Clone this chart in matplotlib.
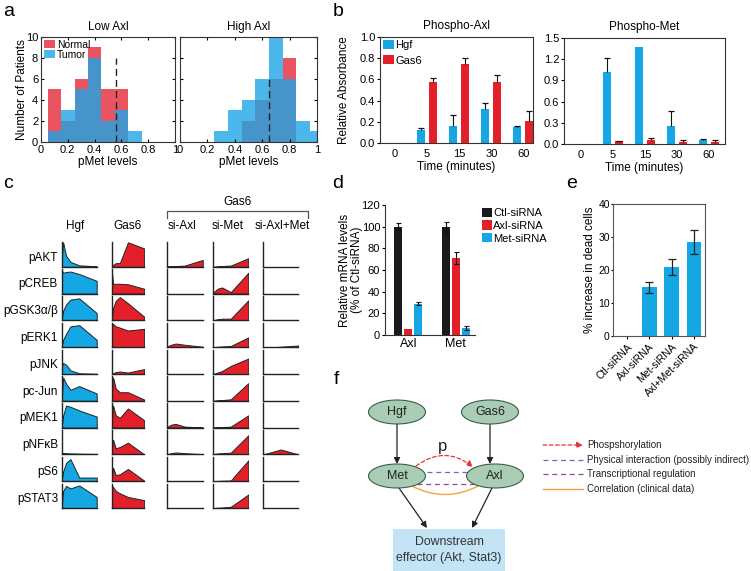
import numpy as np
import matplotlib
matplotlib.use('Agg')
import matplotlib.pyplot as plt
from matplotlib.patches import Ellipse, Rectangle, FancyArrowPatch

plt.rcParams['font.family'] = ['Liberation Sans', 'DejaVu Sans']
plt.rcParams['font.size'] = 8
plt.rcParams['axes.linewidth'] = 0.8

# ---------------- data ----------------
# a: pMet level histograms (bin centres)
pmet_bins = [0.1, 0.2, 0.3, 0.4, 0.5, 0.6, 0.7, 0.8, 0.9, 1.0]
low_normal = [5, 2, 6, 9, 5, 5, 0, 0, 0, 0]
low_tumor = [1, 3, 5, 8, 2, 3, 1, 0, 0, 0]
high_normal = [0, 0, 0, 0, 2, 4, 6, 8, 0, 0]
high_tumor = [0, 0, 1, 3, 4, 6, 10, 6, 2, 1]
cutoff_x = [0.56, 0.65]
cutoff_top = [8, 6]

# b: phospho ELISA
b_times = ['0', '5', '15', '30', '60']
axl_hgf = [0, 0.12, 0.16, 0.32, 0.155]
axl_hgf_err = [0, 0.025, 0.10, 0.06, 0.01]
axl_gas6 = [0, 0.58, 0.75, 0.58, 0.21]
axl_gas6_err = [0, 0.03, 0.05, 0.06, 0.09]
met_hgf = [0, 1.02, 1.37, 0.26, 0.06]
met_hgf_err = [0, 0.19, 0, 0.21, 0.006]
met_gas6 = [0, 0.04, 0.06, 0.035, 0.035]
met_gas6_err = [0, 0.005, 0.02, 0.02, 0.025]

# c: signalling time courses (minutes), normalised levels
c_times = [0, 5, 15, 30, 60, 120]
c_rows = ['pAKT', 'pCREB', 'pGSK3α/β', 'pERK1', 'pJNK', 'pc-Jun', 'pMEK1', 'pNFκB', 'pS6', 'pSTAT3']
c_cols = ['Hgf', 'Gas6', 'si-Axl', 'si-Met', 'si-Axl+Met']
hgf_prof = [
    [0.3, 1.0, 0.45, 0.2, 0.06, 0.02],
    [0.97, 0.85, 0.88, 0.9, 0.8, 0.52],
    [0.05, 0.4, 0.65, 0.85, 0.9, 0.3],
    [0.05, 0.3, 0.55, 0.85, 0.9, 0.3],
    [0.3, 0.45, 0.38, 0.15, 0.03, 0.01],
    [0.1, 0.95, 0.7, 0.45, 0.6, 0.3],
    [0.05, 0.5, 0.9, 0.85, 0.7, 0.45],
    [0.02, 0.06, 0.05, 0.04, 0.03, 0.02],
    [0.05, 0.4, 0.75, 0.9, 0.15, 0.15],
    [0.05, 0.7, 0.9, 0.8, 0.92, 0.45],
]
gas6_prof = [
    [0.0, 0.08, 0.15, 0.15, 1.0, 0.75],
    [1.0, 0.4, 0.4, 0.4, 0.38, 0.2],
    [0.0, 0.5, 0.8, 0.95, 0.7, 0.15],
    [0.95, 0.95, 0.85, 0.8, 0.68, 0.75],
    [0.0, 0.03, 0.08, 0.1, 0.06, 0.2],
    [0.2, 0.95, 0.5, 0.35, 0.35, 0.05],
    [0.2, 0.9, 0.5, 0.4, 0.78, 0.3],
    [0.1, 0.6, 0.25, 0.3, 0.48, 0.0],
    [0.1, 0.55, 0.25, 0.28, 0.5, 0.02],
    [0.95, 0.85, 0.7, 0.6, 0.45, 0.32],
]
si_axl_prof = [
    [0.02, 0.02, 0.03, 0.03, 0.05, 0.28],
    [0, 0, 0, 0, 0, 0],
    [0, 0, 0, 0, 0, 0],
    [0.0, 0.05, 0.1, 0.15, 0.1, 0.02],
    [0, 0, 0, 0, 0, 0],
    [0, 0, 0, 0, 0, 0],
    [0.0, 0.05, 0.12, 0.15, 0.04, 0.01],
    [0.0, 0.02, 0.05, 0.08, 0.05, 0.01],
    [0, 0, 0, 0, 0, 0],
    [0, 0, 0, 0, 0, 0],
]
si_met_prof = [
    [0, 0, 0.02, 0.03, 0.05, 0.35],
    [0.05, 0.1, 0.2, 0.25, 0.06, 0.85],
    [0, 0.02, 0.05, 0.07, 0.07, 0.82],
    [0, 0, 0.02, 0.03, 0.05, 0.4],
    [0, 0.02, 0.06, 0.12, 0.33, 0.63],
    [0, 0, 0.02, 0.03, 0.06, 0.72],
    [0, 0, 0.01, 0.02, 0.04, 0.5],
    [0, 0.02, 0.04, 0.05, 0.07, 0.78],
    [0, 0, 0.01, 0.02, 0.03, 0.85],
    [0, 0, 0.01, 0.02, 0.05, 0.55],
]
si_axlmet_prof = [
    [0, 0, 0, 0, 0, 0],
    [0, 0, 0, 0, 0, 0],
    [0, 0, 0, 0, 0, 0],
    [0, 0, 0, 0, 0.02, 0.07],
    [0, 0, 0, 0, 0, 0],
    [0, 0, 0, 0, 0, 0],
    [0, 0, 0, 0, 0, 0],
    [0, 0.02, 0.05, 0.1, 0.2, 0.0],
    [0, 0, 0, 0, 0, 0],
    [0, 0, 0, 0, 0, 0],
]

# d: mRNA knock-down
mrna_genes = ['Axl', 'Met']
mrna_ctl = [100, 100]
mrna_ctl_err = [3.5, 4.5]
mrna_axl = [6, 71]
mrna_axl_err = [0, 5.5]
mrna_met = [29, 6.5]
mrna_met_err = [1.5, 1.5]

# e: cell death
death_groups = ['Ctl-siRNA', 'Axl-siRNA', 'Met-siRNA', 'Axl+Met-siRNA']
death_vals = [0, 14.7, 20.8, 28.4]
death_err = [0, 1.6, 2.4, 3.7]

# f: diagram
f_nodes = ['Hgf', 'Gas6', 'Met', 'Axl']
f_legend = ['Phospshorylation', 'Physical interaction (possibly indirect)',
            'Transcriptional regulation', 'Correlation (clinical data)']

BLUE = '#14a7e4'
RED = '#e3202a'
W, H = 751, 571

fig = plt.figure(figsize=(W / 100, H / 100), dpi=100)


def box(x0, y0, x1, y1):
    return [x0 / W, 1 - y1 / H, (x1 - x0) / W, (y1 - y0) / H]


def fy(py):
    return 1 - py / H


for letter, px, py in [('a', 9, 11), ('b', 338, 11), ('c', 8, 184), ('d', 338, 184),
                       ('e', 572, 184), ('f', 336, 380)]:
    fig.text(px / W, fy(py), letter, fontsize=14, ha='center', va='center')

# ---------------- a ----------------
axa1 = fig.add_axes(box(41, 37, 175, 142))
axa2 = fig.add_axes(box(180, 37, 317, 142))
for i, (ax, normal, tumor, title) in enumerate([(axa1, low_normal, low_tumor, 'Low Axl'),
                                                 (axa2, high_normal, high_tumor, 'High Axl')]):
    ax.bar(pmet_bins, normal, width=0.1, color='#e8404f', alpha=0.9, lw=0, label='Normal')
    ax.bar(pmet_bins, tumor, width=0.1, color='#1ea5e5', alpha=0.8, lw=0, label='Tumor')
    ax.plot([cutoff_x[i], cutoff_x[i]], [0, cutoff_top[i]], ls=(0, (5, 3)), color='#222', lw=1)
    ax.set_xlim(0, 1)
    ax.set_ylim(0, 10)
    ax.set_xticks([0, 0.2, 0.4, 0.6, 0.8, 1])
    ax.set_xticklabels(['0', '0.2', '0.4', '0.6', '0.8', '1'])
    ax.set_yticks([0, 2, 4, 6, 8, 10])
    ax.tick_params(direction='in', top=True, right=True, length=2.5, labelsize=8, pad=2)
    for s in ax.spines.values():
        s.set_color('#333')
    ax.set_xlabel('pMet levels', fontsize=8.5, labelpad=1)
    ax.set_title(title, fontsize=8.5, pad=5)
axa2.set_yticklabels([])
axa1.set_ylabel('Number of Patients', fontsize=8.5)
axa1.yaxis.set_label_coords(-0.095, 0.5)
axa1.legend(loc='upper left', frameon=False, fontsize=7.5, handlelength=1.1, handleheight=0.75,
            handletextpad=0.2, borderaxespad=0.1, labelspacing=0.0, borderpad=0.15)

# ---------------- b ----------------
axb1 = fig.add_axes(box(380, 37, 533, 143))
axb2 = fig.add_axes(box(564, 38, 725, 144))
xb = np.arange(len(b_times))
for ax, hg, hge, gs, gse, title, xl, yl, yt in [
        (axb1, axl_hgf, axl_hgf_err, axl_gas6, axl_gas6_err, 'Phospho-Axl', (-0.47, 4.3), (0, 1.0),
         [0, 0.2, 0.4, 0.6, 0.8, 1.0]),
        (axb2, met_hgf, met_hgf_err, met_gas6, met_gas6_err, 'Phospho-Met', (-0.53, 4.5), (0, 1.5),
         [0, 0.3, 0.6, 0.9, 1.2, 1.5])]:
    for vals, errs, off, col, lab in [(hg, hge, -0.19, BLUE, 'Hgf'), (gs, gse, 0.19, RED, 'Gas6')]:
        ax.bar(xb + off, vals, width=0.25, color=col, lw=0, label=lab)
        v = np.array(vals)
        e = np.array(errs)
        m = e > 0
        ax.errorbar(xb[m] + off, v[m], yerr=[np.zeros(m.sum()), e[m]], fmt='none',
                    ecolor='#111', elinewidth=0.8, capsize=0)
        ax.plot(xb[m] + off, v[m] + e[m], ls='none', marker='_', ms=4.5, mew=0.9, color='#111')
    ax.set_xlim(*xl)
    ax.set_ylim(*yl)
    ax.set_xticks(xb)
    ax.set_xticklabels(b_times)
    ax.set_yticks(yt)
    ax.set_yticklabels(['%.1f' % t for t in yt])
    ax.tick_params(axis='x', length=0, pad=4, labelsize=8)
    ax.tick_params(axis='y', length=2, labelsize=8, pad=1.5)
    for s in ax.spines.values():
        s.set_color('#333')
    ax.set_xlabel('Time (minutes)', fontsize=8.5, labelpad=2)
    ax.set_title(title, fontsize=8.5, pad=6)
axb1.set_ylabel('Relative Absorbance', fontsize=8.5)
axb1.yaxis.set_label_coords(-0.195, 0.5)
axb1.legend(loc='upper left', frameon=False, fontsize=8, handlelength=1.0, handleheight=0.9,
            handletextpad=0.15, borderaxespad=0.15, labelspacing=0.45, borderpad=0.1)

# ---------------- c ----------------
col_left = [61.7, 111.7, 166.7, 213.3, 263.3]
col_w = [35, 32.5, 36, 35, 35]
profiles = [hgf_prof, gas6_prof, si_axl_prof, si_met_prof, si_axlmet_prof]
colors = [BLUE, RED, RED, RED, RED]
row_top0, row_pitch, row_h = 242.3, 26.8, 24.5
for j in range(len(c_cols)):
    for i in range(len(c_rows)):
        top = row_top0 + i * row_pitch
        ax = fig.add_axes(box(col_left[j], top, col_left[j] + col_w[j], top + row_h))
        ax.fill_between(c_times, profiles[j][i], 0, facecolor=colors[j], edgecolor='#222', lw=0.7)
        ax.set_xlim(0, 120)
        ax.set_ylim(0, 1.0)
        ax.set_xticks([])
        ax.set_yticks([])
        for s in ['top', 'right']:
            ax.spines[s].set_visible(False)
        for s in ['left', 'bottom']:
            ax.spines[s].set_color('#222')
            ax.spines[s].set_linewidth(1.0)
for i, name in enumerate(c_rows):
    fig.text(58 / W, fy(row_top0 + i * row_pitch + row_h / 2 + 3), name, ha='right', va='center', fontsize=8.5)
col_head_x = [75, 128, 182, 228, 282]
for name, px in zip(c_cols, col_head_x):
    fig.text(px / W, fy(226), name, ha='center', va='center', fontsize=8.5)
brk = fig.add_axes([0, 0, 1, 1], facecolor='none')
brk.set_xlim(0, W)
brk.set_ylim(H, 0)
brk.axis('off')
brk.plot([167, 167, 308, 308], [218, 211, 211, 218], color='#555', lw=0.9)
brk.text(238, 202, 'Gas6', ha='center', va='center', fontsize=8.5)

# ---------------- d ----------------
axd = fig.add_axes(box(385, 205, 475, 335))
xd = np.arange(len(mrna_genes))
for vals, errs, off, col, lab in [(mrna_ctl, mrna_ctl_err, -0.21, '#1a1a1a', 'Ctl-siRNA'),
                                  (mrna_axl, mrna_axl_err, 0.0, RED, 'Axl-siRNA'),
                                  (mrna_met, mrna_met_err, 0.21, BLUE, 'Met-siRNA')]:
    axd.bar(xd + off, vals, width=0.17, color=col, lw=0, label=lab)
    e = np.array(errs)
    m = e > 0
    axd.errorbar((xd + off)[m], np.array(vals)[m], yerr=e[m], fmt='none', ecolor='#111',
                 elinewidth=0.8, capsize=1.8, capthick=0.8)
axd.set_xlim(-0.487, 1.40)
axd.set_ylim(0, 120)
axd.set_yticks([0, 20, 40, 60, 80, 100, 120])
axd.set_xticks(xd)
axd.set_xticklabels(mrna_genes, fontsize=9)
axd.tick_params(axis='x', length=0, pad=2)
axd.tick_params(axis='y', length=2, labelsize=8, pad=1.5)
for s in ['top', 'right']:
    axd.spines[s].set_visible(False)
for s in ['left', 'bottom']:
    axd.spines[s].set_color('#333')
axd.set_ylabel('Relative mRNA levels\n(% of Ctl-siRNA)', fontsize=8.5, linespacing=1.0)
axd.yaxis.set_label_coords(-0.245, 0.5)
axd.legend(loc='upper left', bbox_to_anchor=(1.0, 1.03), frameon=False, fontsize=8,
           handlelength=0.9, handleheight=0.9, handletextpad=0.15, labelspacing=0.2, borderpad=0.1)

# ---------------- e ----------------
axe = fig.add_axes(box(613, 204, 705, 336))
xe = np.arange(len(death_groups))
axe.bar(xe, death_vals, width=0.66, color=BLUE, lw=0)
de = np.array(death_err)
me = de > 0
axe.errorbar(xe[me], np.array(death_vals)[me], yerr=de[me], fmt='none', ecolor='#222',
             elinewidth=0.9, capsize=2.8, capthick=0.9)
axe.set_xlim(-0.63, 3.5)
axe.set_ylim(0, 40)
axe.set_yticks([0, 10, 20, 30, 40])
axe.set_xticks(xe)
axe.set_xticklabels(death_groups, rotation=45, ha='right', rotation_mode='anchor', fontsize=7.5)
axe.tick_params(axis='x', length=2, pad=2)
axe.tick_params(axis='y', length=1.5, labelsize=7.5, pad=0.8)
for s in axe.spines.values():
    s.set_color('#555')
axe.set_ylabel('% increase in dead cells', fontsize=8.5)
axe.yaxis.set_label_coords(-0.19, 0.5)

# ---------------- f ----------------
axf = fig.add_axes(box(330, 371, W, H))
axf.set_xlim(330, W)
axf.set_ylim(H, 371)
axf.axis('off')
node_xy = [(397, 412), (490, 412), (397, 476), (495, 476)]
for name, (cx, cy) in zip(f_nodes, node_xy):
    axf.add_patch(Ellipse((cx, cy), 57, 24, facecolor='#a8ccb4', edgecolor='#3d5c48', lw=0.8, zorder=3))
    axf.text(cx, cy, name, ha='center', va='center', fontsize=9, color='#222', zorder=4)

axf.add_patch(Rectangle((393, 529), 112, 42, facecolor='#c2e4f4', edgecolor='none', zorder=1))
axf.text(449, 542, 'Downstream', ha='center', va='center', fontsize=8.8, color='#333', zorder=2)
axf.text(449, 558, 'effector (Akt, Stat3)', ha='center', va='center', fontsize=8.8, color='#333', zorder=2)


def arrow(p0, p1, color='#222', ls='-', rad=0.0, lw=0.9):
    axf.add_patch(FancyArrowPatch(p0, p1, arrowstyle='-|>', mutation_scale=9, shrinkA=0, shrinkB=0,
                                  color=color, lw=lw, linestyle=ls,
                                  connectionstyle='arc3,rad=%s' % rad, zorder=2))


arrow((397, 424), (397, 464))
arrow((490, 424), (490, 464))
arrow((399, 488), (427, 528))
arrow((492, 488), (472, 528))

REL_COL = ['#e8343c', '#6b6bbf', '#9a3f9e', '#f5a33a']
arrow((416, 466), (473, 467), color=REL_COL[0], ls=(0, (3, 2)), rad=-0.38)
axf.text(443, 447, 'p', ha='center', va='center', fontsize=12, color='#222')
axf.plot([427, 467], [472, 472], color=REL_COL[1], ls=(0, (4, 3)), lw=0.9, zorder=2)
axf.plot([417, 475], [484, 484], color=REL_COL[2], ls=(0, (4, 3)), lw=0.9, zorder=2)
axf.add_patch(FancyArrowPatch((412, 486), (478, 486), arrowstyle='-', shrinkA=0, shrinkB=0,
                              color=REL_COL[3], lw=1.0, connectionstyle='arc3,rad=0.26', zorder=2))

leg_y = [445, 460, 474, 489]
for k, (lab, yy) in enumerate(zip(f_legend, leg_y)):
    if k == 0:
        arrow((543, yy), (583, yy), color=REL_COL[0], ls=(0, (3, 2)))
    elif k == 3:
        axf.plot([543, 583], [yy, yy], color=REL_COL[k], lw=1.0)
    else:
        axf.plot([543, 583], [yy, yy], color=REL_COL[k], ls=(0, (4, 3)), lw=0.9)
    axf.text(587, yy, lab, ha='left', va='center', fontsize=7, color='#222')

fig.savefig('out.png', dpi=100)
